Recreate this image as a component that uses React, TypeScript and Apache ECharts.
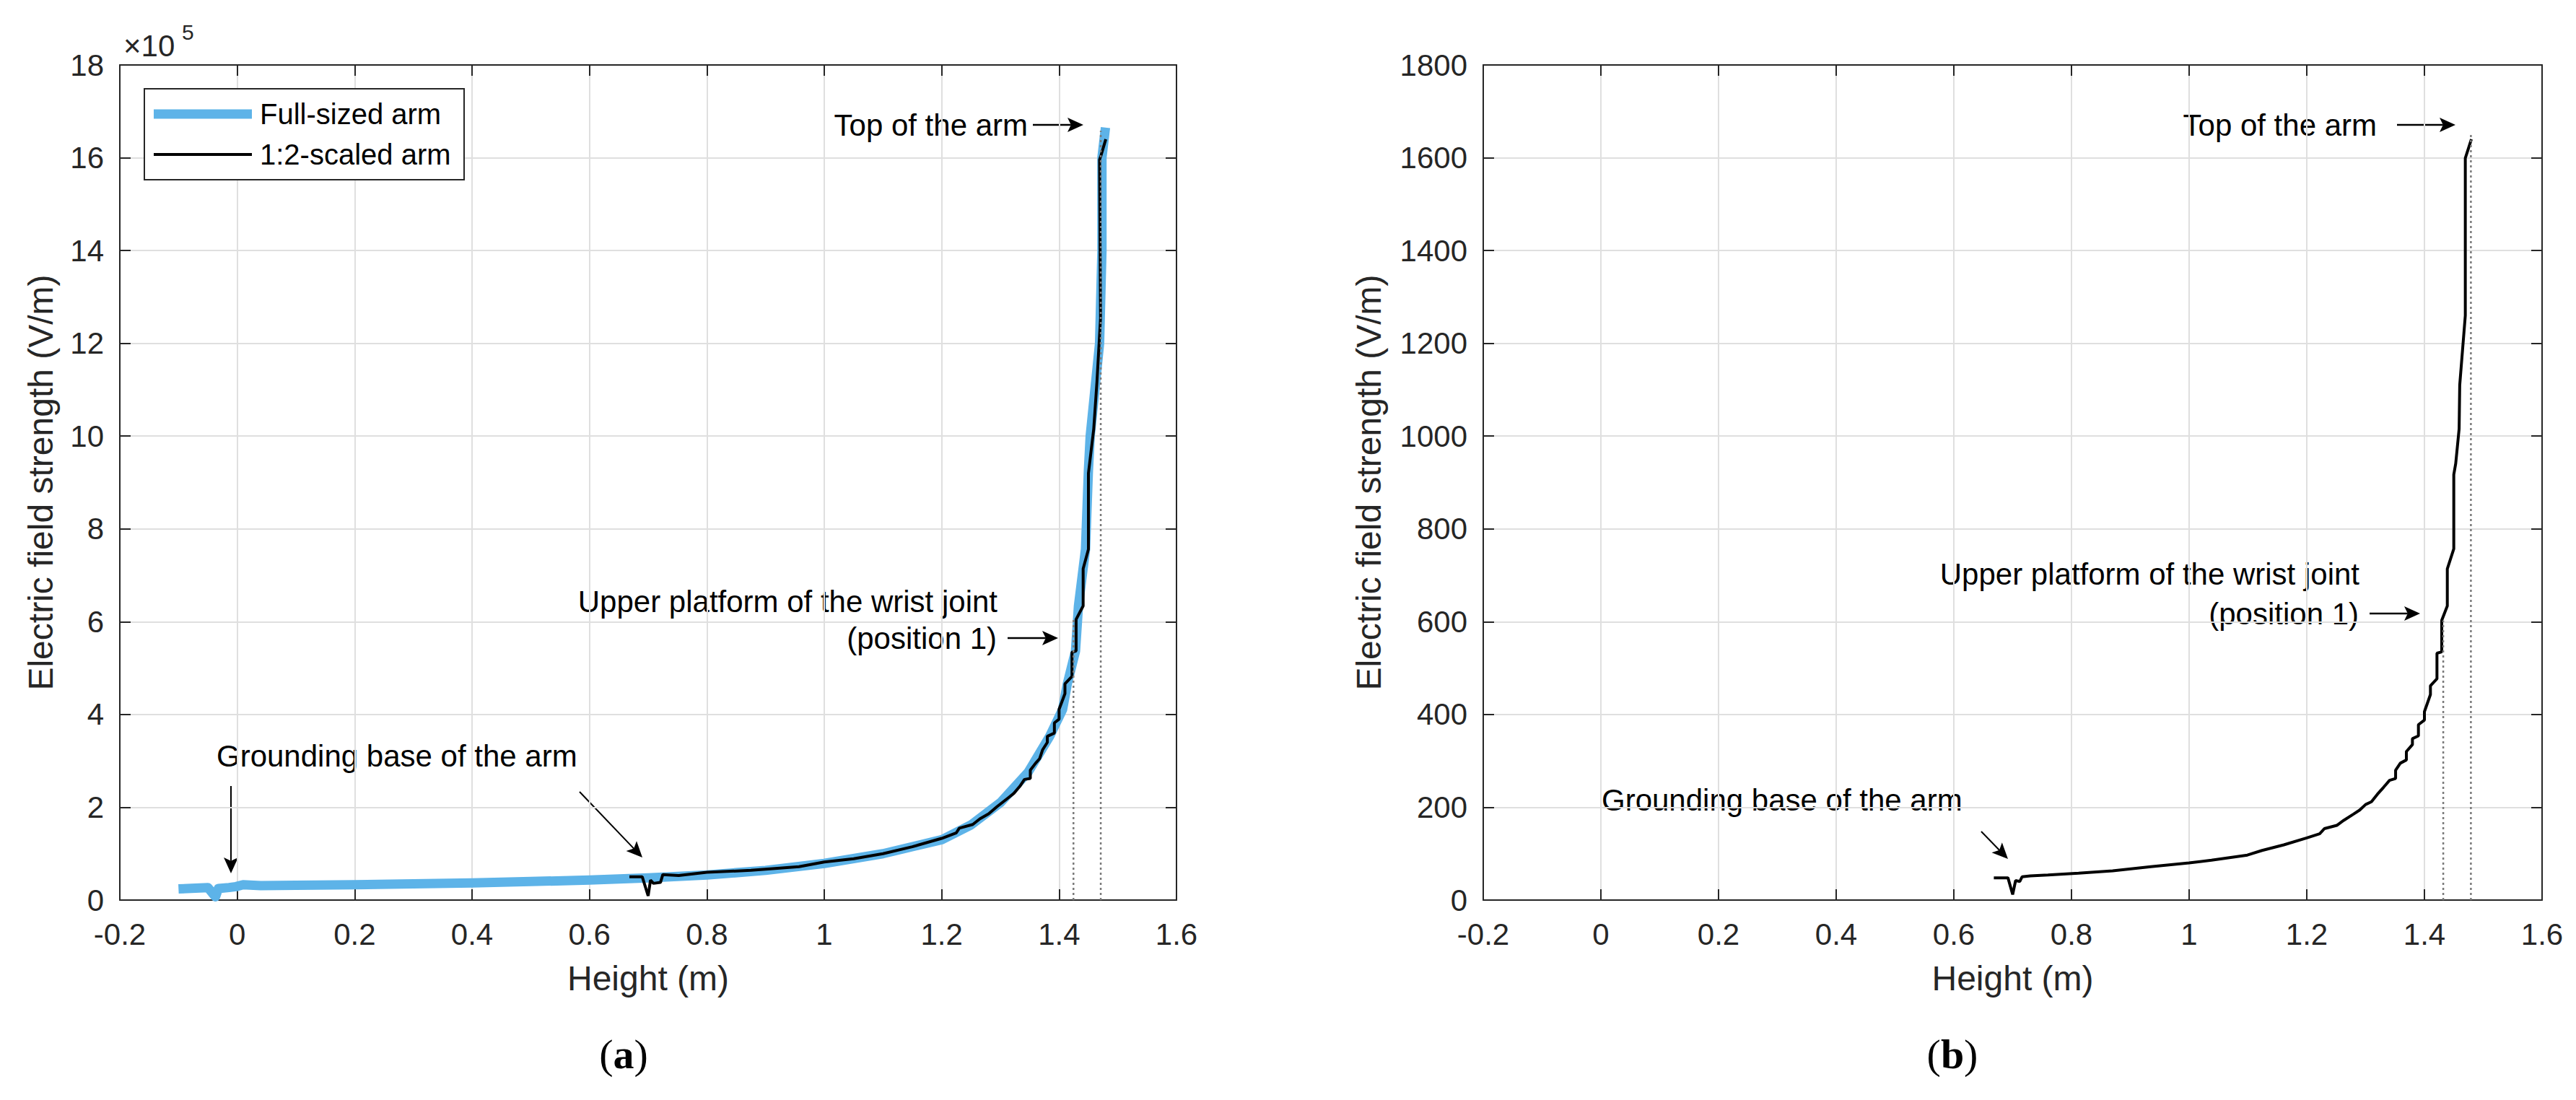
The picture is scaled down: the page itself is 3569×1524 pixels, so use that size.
import React, { useEffect, useRef } from "react";
import * as echarts from "echarts";

// ---------- data ----------
const xRange = { min: -0.2, max: 1.6, interval: 0.2 };
const yRangeA = { min: 0, max: 18, interval: 2 }; // ×10^5 V/m
const yRangeB = { min: 0, max: 1800, interval: 200 }; // V/m

// (a) full-sized arm, field strength in 10^5 V/m
const fullSizedArmA: [number, number][] = [
  [-0.1, 0.24], [-0.05, 0.27], [-0.037, 0.07], [-0.032, 0.25], [-0.014, 0.27],
  [-0.002, 0.29], [0.01, 0.33], [0.04, 0.31], [0.1, 0.32], [0.2, 0.33],
  [0.3, 0.35], [0.4, 0.37], [0.5, 0.4], [0.6, 0.43], [0.7, 0.48],
  [0.8, 0.54], [0.9, 0.64], [1.0, 0.79], [1.1, 1.0], [1.2, 1.3],
  [1.25, 1.62], [1.3, 2.1], [1.347, 2.75], [1.384, 3.53], [1.406, 4.11],
  [1.414, 4.66], [1.428, 5.37], [1.433, 6.34], [1.445, 7.56], [1.45, 9.27],
  [1.453, 10.0], [1.469, 12.0], [1.473, 14.0], [1.473, 16.0], [1.479, 16.65],
];

// (a) 1:2-scaled arm, 10^5 V/m
const scaledArmA: [number, number][] = [
  [0.668, 0.5], [0.69, 0.5], [0.7, 0.09], [0.704, 0.43], [0.709, 0.36],
  [0.721, 0.38], [0.725, 0.55], [0.752, 0.53], [0.8, 0.6], [0.875, 0.64],
  [0.957, 0.72], [1.0, 0.82], [1.05, 0.89], [1.1, 1.0], [1.15, 1.15],
  [1.2, 1.33], [1.225, 1.45], [1.23, 1.55], [1.253, 1.63], [1.265, 1.75],
  [1.28, 1.86], [1.294, 2.01], [1.314, 2.21], [1.323, 2.3], [1.333, 2.45],
  [1.341, 2.6], [1.351, 2.62], [1.351, 2.8], [1.36, 2.95], [1.367, 3.05],
  [1.372, 3.24], [1.38, 3.4], [1.38, 3.53], [1.392, 3.6], [1.392, 3.82],
  [1.4, 3.9], [1.4, 4.11], [1.41, 4.45], [1.41, 4.66], [1.422, 4.82],
  [1.422, 5.34], [1.429, 5.37], [1.429, 6.05], [1.441, 6.34], [1.441, 7.14],
  [1.45, 7.56], [1.45, 9.2], [1.459, 10.15], [1.4645, 11.17], [1.4706, 12.54],
  [1.469, 15.96], [1.4714, 16.05], [1.4796, 16.4],
];

// (b) 1:2-scaled arm, V/m
const scaledArmB: [number, number][] = [
  [0.668, 48], [0.692, 48], [0.7, 12], [0.705, 42], [0.712, 40],
  [0.716, 50], [0.73, 52], [0.76, 54], [0.812, 58], [0.87, 63],
  [0.935, 72], [1.0, 80], [1.038, 86], [1.099, 97], [1.124, 107],
  [1.161, 119], [1.2, 134], [1.222, 143], [1.23, 154], [1.251, 161],
  [1.263, 172], [1.279, 185], [1.29, 194], [1.3, 206], [1.31, 212],
  [1.32, 228], [1.3305, 243], [1.3407, 258], [1.351, 262], [1.351, 280],
  [1.359, 295], [1.3693, 302], [1.3693, 320], [1.3796, 335], [1.3796, 348],
  [1.3898, 354], [1.3898, 378], [1.4, 388], [1.4, 406], [1.4102, 443],
  [1.4102, 462], [1.4213, 477], [1.4213, 532], [1.4294, 535], [1.4294, 603],
  [1.4389, 634], [1.4389, 714], [1.4499, 757], [1.4499, 917], [1.4532, 941],
  [1.459, 1016], [1.46, 1110], [1.4695, 1260], [1.4695, 1599], [1.4798, 1640],
];

// dotted reference heights (x position, top value)
const guidesA: [number, number][] = [[1.4245, 6.05], [1.471, 16.58]];
const guidesB: [number, number][] = [[1.432, 603], [1.479, 1652]];

const legendNames = ["Full-sized arm", "1:2-scaled arm"];

// ---------- style ----------
const SANS = '"Liberation Sans", Arial, Helvetica, sans-serif';
const SERIF = '"Liberation Serif", "Times New Roman", serif';
const AX = "#262626";
const BLUE = "#5db3e8";
const GRIDC = "#dfdfdf";

function arrow(x1: number, y1: number, x2: number, y2: number, lw = 2.5) {
  const dx = x2 - x1, dy = y2 - y1;
  const L = Math.hypot(dx, dy);
  const ux = dx / L, uy = dy / L;
  const head = 22, half = 10;
  const bx = x2 - ux * head, by = y2 - uy * head;
  const nx = bx + ux * head * 0.22, ny = by + uy * head * 0.22;
  const px = -uy, py = ux;
  return [
    { type: "line", silent: true, shape: { x1, y1, x2: nx, y2: ny }, style: { stroke: "#000", lineWidth: lw } },
    {
      type: "polygon", silent: true,
      shape: { points: [[x2, y2], [bx + px * half, by + py * half], [nx, ny], [bx - px * half, by - py * half]] },
      style: { fill: "#000" },
    },
  ];
}

function txt(text: string, x: number, y: number, align: string, size = 42, extra: any = {}) {
  return {
    type: "text", silent: true, x, y,
    style: { text, fill: "#000", font: `${size}px ${SANS}`, align, verticalAlign: "middle", ...extra },
  };
}

function xAxisPair(gridIndex: number, withName: boolean) {
  const base = {
    type: "value", gridIndex, ...xRange,
    axisLine: { show: true, onZero: false, lineStyle: { color: AX, width: 2 } },
    axisTick: { show: true, inside: true, length: 15, lineStyle: { color: AX, width: 2 } },
  };
  return [
    {
      ...base, position: "bottom",
      name: withName ? "Height (m)" : "",
      nameLocation: "middle", nameGap: 84,
      nameTextStyle: { color: AX, fontSize: 48, fontFamily: SANS },
      axisLabel: {
        show: true, margin: 26, color: AX, fontSize: 42, fontFamily: SANS,
        formatter: (v: number) => String(Math.round(v * 10) / 10),
      },
      splitLine: { show: true, lineStyle: { color: GRIDC, width: 2 } },
    },
    { ...base, position: "top", axisLabel: { show: false }, splitLine: { show: false } },
  ];
}

function yAxisPair(gridIndex: number, range: any, nameGap: number) {
  const base = {
    type: "value", gridIndex, ...range,
    axisLine: { show: true, onZero: false, lineStyle: { color: AX, width: 2 } },
    axisTick: { show: true, inside: true, length: 15, lineStyle: { color: AX, width: 2 } },
  };
  return [
    {
      ...base, position: "left",
      name: "Electric field strength (V/m)",
      nameLocation: "middle", nameGap,
      nameTextStyle: { color: AX, fontSize: 48, fontFamily: SANS },
      axisLabel: {
        show: true, margin: 22, color: AX, fontSize: 42, fontFamily: SANS,
        formatter: (v: number) => String(v),
      },
      splitLine: { show: true, lineStyle: { color: GRIDC, width: 2 } },
    },
    { ...base, position: "right", axisLabel: { show: false }, splitLine: { show: false } },
  ];
}

function guideSeries(guides: [number, number][], xi: number, yi: number, yMin: number) {
  return guides.map(([gx, top], i) => ({
    type: "line", name: `guide-${xi}-${i}`, xAxisIndex: xi, yAxisIndex: yi,
    data: [[gx, yMin], [gx, top]], showSymbol: false, silent: true, z: 5,
    lineStyle: { color: "#7a7a7a", width: 2.5, type: [3, 4] },
  }));
}

export default function App() {
  const ref = useRef<HTMLDivElement>(null);
  useEffect(() => {
    document.body.style.margin = "0";
    if (!ref.current) return;
    const chart = echarts.init(ref.current, undefined, { renderer: "svg" });
    const option: any = {
      animation: false,
      backgroundColor: "#ffffff",
      grid: [
        { left: 166, top: 90, width: 1464, height: 1157 },
        { left: 2055, top: 90, width: 1467, height: 1157 },
      ],
      xAxis: [...xAxisPair(0, true), ...xAxisPair(1, true)],
      yAxis: [...yAxisPair(0, yRangeA, 86), ...yAxisPair(1, yRangeB, 135)],
      series: [
        {
          type: "line", name: legendNames[0], xAxisIndex: 0, yAxisIndex: 0,
          data: fullSizedArmA, showSymbol: false, z: 2,
          lineStyle: { color: BLUE, width: 13, join: "round" },
          itemStyle: { color: BLUE },
        },
        {
          type: "line", name: legendNames[1], xAxisIndex: 0, yAxisIndex: 0,
          data: scaledArmA, showSymbol: false, z: 3,
          lineStyle: { color: "#000", width: 4 },
          itemStyle: { color: "#000" },
        },
        ...guideSeries(guidesA, 0, 0, 0),
        {
          type: "line", name: legendNames[1] + " (b)", xAxisIndex: 2, yAxisIndex: 2,
          data: scaledArmB, showSymbol: false, z: 3,
          lineStyle: { color: "#000", width: 4 },
          itemStyle: { color: "#000" },
        },
        ...guideSeries(guidesB, 2, 2, 0),
      ],
      graphic: [
        // legend
        { type: "rect", silent: true, shape: { x: 200, y: 123, width: 443, height: 126 }, style: { fill: "#fff", stroke: AX, lineWidth: 2 }, z: 10 },
        { type: "line", silent: true, shape: { x1: 213, y1: 158, x2: 349, y2: 158 }, style: { stroke: BLUE, lineWidth: 13 }, z: 11 },
        { type: "line", silent: true, shape: { x1: 213, y1: 214, x2: 349, y2: 214 }, style: { stroke: "#000", lineWidth: 4 }, z: 11 },
        { ...txt(legendNames[0], 360, 158, "left", 40), z: 11 },
        { ...txt(legendNames[1], 360, 214, "left", 40), z: 11 },
        // exponent
        txt("×10", 171, 63, "left", 42, { fill: AX }),
        txt("5", 252, 44, "left", 30, { fill: AX }),
        // (a) annotations
        txt("Top of the arm", 1424, 173, "right"),
        ...arrow(1431, 173, 1501, 173),
        txt("Upper platform of the wrist joint", 1382, 833, "right"),
        txt("(position 1)", 1381, 884, "right"),
        ...arrow(1396, 884, 1466, 884),
        txt("Grounding base of the arm", 300, 1047, "left"),
        ...arrow(320, 1089, 320, 1210, 2),
        ...arrow(803, 1097, 890, 1188, 2),
        // (b) annotations
        txt("Top of the arm", 3293, 173, "right"),
        ...arrow(3321, 173, 3402, 173),
        txt("Upper platform of the wrist joint", 3269, 795, "right"),
        txt("(position 1)", 3268, 850, "right"),
        ...arrow(3283, 850, 3353, 850),
        txt("Grounding base of the arm", 2219, 1108, "left"),
        ...arrow(2745, 1152, 2782, 1190, 2),
        // panel labels
        {
          type: "text", silent: true, x: 864, y: 1460,
          style: {
            text: "{p|(}{b|a}{p|)}", align: "center", verticalAlign: "middle",
            rich: {
              p: { fontFamily: SERIF, fontSize: 58, fill: "#000" },
              b: { fontFamily: SERIF, fontSize: 58, fontWeight: "bold", fill: "#000" },
            },
          },
        },
        {
          type: "text", silent: true, x: 2705, y: 1460,
          style: {
            text: "{p|(}{b|b}{p|)}", align: "center", verticalAlign: "middle",
            rich: {
              p: { fontFamily: SERIF, fontSize: 58, fill: "#000" },
              b: { fontFamily: SERIF, fontSize: 58, fontWeight: "bold", fill: "#000" },
            },
          },
        },
      ],
    };
    chart.setOption(option);
    return () => chart.dispose();
  }, []);
  return <div ref={ref} style={{ width: 3569, height: 1524, position: "absolute", left: 0, top: 0, background: "#fff" }} />;
}
